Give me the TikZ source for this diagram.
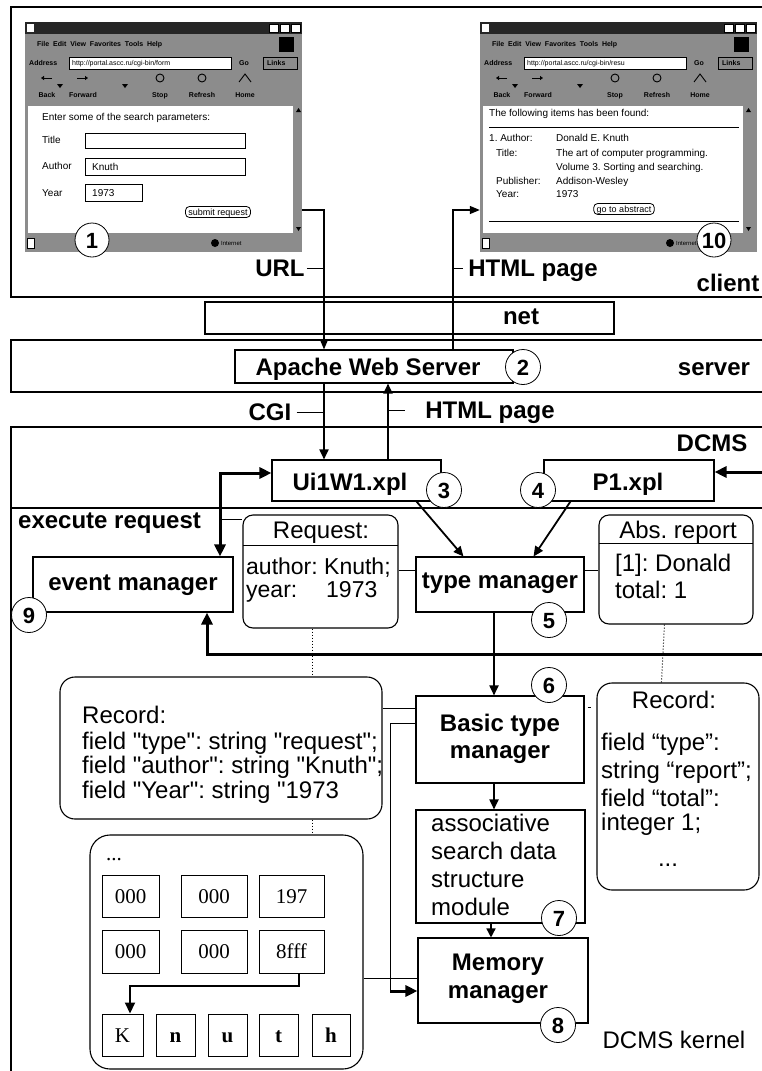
\documentclass[tikz,border=0pt]{standalone}
\usepackage{fontspec}
\setmainfont{Liberation Sans}
\newfontfamily\cellfont{Liberation Serif}
\usetikzlibrary{arrows.meta}
\AtBeginDocument{\frenchspacing}
\newcommand\sq{\XeTeXglyph\XeTeXcharglyph"22\relax}
\tikzset{
  frame/.style={draw,line width=1.4pt},
  box/.style={draw,line width=1.1pt,inner sep=0pt},
  rbox/.style={draw,line width=1.1pt,inner sep=0pt},
  lab/.style={inner sep=0pt,text height=17pt,text depth=0pt,font=\fontsize{24}{28}\selectfont\bfseries},
  txt/.style={inner sep=0pt,text height=17pt,text depth=0pt,font=\fontsize{24}{28}\selectfont},
  reqtxt/.style={inner sep=0pt,text height=16pt,text depth=0pt,font=\fontsize{23}{27}\selectfont},
  num/.style={circle,draw,fill=white,line width=0.8pt,minimum size=35pt,inner sep=0pt,text height=16pt,text depth=0pt,font=\fontsize{22}{22}\selectfont\bfseries},
  arr/.style={line width=1.8pt,-{Triangle[length=10pt,width=9pt]}},
  thinarr/.style={line width=1.3pt,-{Triangle[length=10pt,width=8pt]}},
  thickarr/.style={line width=3pt,-{Triangle[length=12pt,width=11pt]}},
  thickboth/.style={line width=3pt,{Triangle[length=12pt,width=11pt]}-{Triangle[length=12pt,width=11pt]}},
  link/.style={line width=1pt},
  dotlink/.style={line width=1pt,dotted},
  cell/.style={draw,line width=1pt,inner sep=0pt,text height=14pt,text depth=0pt,font=\cellfont\fontsize{21}{21}\selectfont},
  btxt/.style={inner sep=0pt,anchor=west,text height=7pt,text depth=0pt,font=\fontsize{10}{12}\selectfont},
  stxt/.style={inner sep=0pt,text height=5pt,text depth=0pt,font=\fontsize{7}{8}\selectfont\bfseries},
  fieldbox/.style={draw,fill=white,line width=0.7pt},
  button/.style={draw,fill=white,line width=0.8pt,rounded corners=4pt,inner xsep=3pt,inner ysep=2pt,text height=7pt,text depth=0pt,font=\fontsize{9}{10}\selectfont},
}
\newcommand\drawbrowser[2]{%
  \fill[black!45] (0,0) rectangle (277,230);
  \fill[black!85] (0,0) rectangle (277,12);
  \fill[white] (2,2) rectangle (9,10);
  \foreach \bx in {244,255,266}{\draw[fill=white,line width=0.5pt] (\bx,2) rectangle ++(9,8);}
  \node[stxt,anchor=west] at (12,22) {File\ \ Edit\ \ View\ \ Favorites\ \ Tools\ \ Help};
  \fill[black] (254,15) rectangle (269,30);
  \node[stxt,anchor=west] at (4,41) {Address};
  \draw[fieldbox] (44,35) rectangle (206,47);
  \node[stxt,anchor=west,font=\fontsize{7}{8}\selectfont] at (47,41) {#1};
  \node[stxt,anchor=west] at (214,41) {Go};
  \draw[line width=0.6pt] (238,35) rectangle (272,47);
  \node[stxt,anchor=west] at (242,41) {Links};
  \draw[line width=1pt,-{Triangle[length=3pt,width=4pt]}] (27,56) -- (16,56);
  \draw[line width=1pt,-{Triangle[length=3pt,width=4pt]}] (52,56) -- (63,56);
  \fill (32,62) -- (38,62) -- (35,66) -- cycle;
  \fill (97,62) -- (103,62) -- (100,66) -- cycle;
  \draw[line width=0.9pt] (135,56) circle (4);
  \draw[line width=0.9pt] (177,56) circle (4);
  \draw[line width=0.9pt] (214,60) -- (220,52) -- (226,60);
  \node[stxt] at (22,73) {Back};
  \node[stxt] at (58,73) {Forward};
  \node[stxt] at (135,73) {Stop};
  \node[stxt] at (177,73) {Refresh};
  \node[stxt] at (220,73) {Home};
  \fill[white] (3,84) rectangle (#2,211);
  \fill (#2+3,90) -- (#2+8,90) -- (#2+5.5,86) -- cycle;
  \fill (#2+3,205) -- (#2+8,205) -- (#2+5.5,209) -- cycle;
  \draw[fill=white,line width=0.5pt] (2,216) rectangle (9,226);
  \fill (190,221) circle (4);
  \node[stxt,anchor=west,font=\fontsize{6}{7}\selectfont] at (196,221) {Internet};
}
\begin{document}
\begin{tikzpicture}[x=1pt,y=-1pt]
\useasboundingbox (0,0) rectangle (762,1071);
\clip (0,0) rectangle (762,1071);
\fill[white] (0,0) rectangle (762,1071);

% layer frames
\draw[frame] (11,7) rectangle (800,297);
\draw[frame] (11,340) rectangle (800,392);
\draw[frame] (11,427) rectangle (800,1100);
\draw[frame] (11,508) -- (800,508);

% browsers
\begin{scope}[shift={(25,22)}]\drawbrowser{http://portal.ascc.ru/cgi-bin/form}{268}\end{scope}
\begin{scope}[shift={(480,22)}]\drawbrowser{http://portal.ascc.ru/cgi-bin/resu}{263}\end{scope}
\node[inner sep=0pt,minimum width=277pt,minimum height=230pt] (b1) at (163.5,137) {};
\node[inner sep=0pt,minimum width=276pt,minimum height=230pt] (b2) at (618,137) {};

% left browser content
\node[btxt] at (42,117) {Enter some of the search parameters:};
\node[btxt] at (42,140) {Title};
\draw[fieldbox] (85,133) rectangle (245,148);
\node[btxt] at (42,166) {Author};
\draw[fieldbox] (85,158) rectangle (245,175);
\node[btxt] at (92,167) {Knuth};
\node[btxt] at (42,193) {Year};
\draw[fieldbox] (85,184) rectangle (142,201);
\node[btxt] at (92,193) {1973};
\node[button] (sub) at (218,212) {submit request};

% right browser content
\node[btxt] at (489,113) {The following items has been found:};
\draw[line width=0.8pt] (489,127) -- (739,127);
\node[btxt] at (489,138) {1. Author:};
\node[btxt] at (556,138) {Donald E. Knuth};
\node[btxt] at (496,153) {Title:};
\node[btxt] at (556,153) {The art of computer programming.};
\node[btxt] at (556,167) {Volume 3. Sorting and searching.};
\node[btxt] at (496,181) {Publisher:};
\node[btxt] at (556,181) {Addison-Wesley};
\node[btxt] at (496,194) {Year:};
\node[btxt] at (556,194) {1973};
\node[button] (abstr) at (624,209) {go to abstract};
\draw[line width=0.8pt] (489,221) -- (739,221);

% boxes
\node[box,minimum width=409pt,minimum height=32pt] (net) at (409.5,318) {};
\node[lab] at (521,316) {net};
\node[box,minimum width=278pt,minimum height=33pt] (apache) at (374,366.5) {};
\node[lab] at (368,367) {Apache Web Server};
\node[lab] at (714,367) {server};

\node[box,minimum width=169pt,minimum height=41pt] (ui) at (356.5,480.5) {};
\node[lab] at (350,482) {Ui1W1.xpl};
\node[box,minimum width=170pt,minimum height=41pt] (p1) at (629,480.5) {};
\node[lab] at (628,482) {P1.xpl};
\node[lab] at (712,443) {DCMS};

\node[box,minimum width=200pt,minimum height=55pt] (event) at (133,584.5) {};
\node[lab] at (133,582) {event manager};
\node[box,minimum width=168pt,minimum height=55pt] (type) at (500,584.5) {};
\node[lab] at (500,580) {type manager};

\node[rbox,rounded corners=10pt,minimum width=155pt,minimum height=113pt] (req) at (320.5,571.5) {};
\draw[link] (243,545) -- (398,545);
\node[txt] at (321,530) {Request:};
\node[reqtxt,anchor=west] at (246,566) {author: Knuth;};
\node[reqtxt,anchor=west] at (246,589) {year:};
\node[reqtxt,anchor=west] at (326,589) {1973};

\node[rbox,rounded corners=10pt,minimum width=154pt,minimum height=109pt] (abs) at (676,569.5) {};
\draw[link] (599,543) -- (753,543);
\node[txt] at (678,530) {Abs. report};
\node[txt,anchor=west] at (615,563) {[1]: Donald};
\node[txt,anchor=west] at (615,590) {total: 1};

\node[lab,anchor=west] at (18,520) {execute request};

\node[box,minimum width=168pt,minimum height=87pt] (basic) at (500,739.5) {};
\node[lab] at (500,723) {Basic type};
\node[lab] at (500,750) {manager};
\node[box,minimum width=169pt,minimum height=113pt] (assoc) at (500.5,866.5) {};
\node[txt,anchor=west] at (431,823) {associative};
\node[txt,anchor=west] at (431,851) {search data};
\node[txt,anchor=west] at (431,879) {structure};
\node[txt,anchor=west] at (431,907) {module};
\node[box,minimum width=170pt,minimum height=85pt] (mem) at (503,980.5) {};
\node[lab] at (498,962) {Memory};
\node[lab] at (498,990) {manager};
\node[txt] at (674,1040) {DCMS kernel};

% records
\node[rbox,rounded corners=15pt,minimum width=322pt,minimum height=142pt] (recL) at (221,748) {};
\node[txt,anchor=west] at (82,715) {Record:};
\node[txt,anchor=west] at (82,741) {field \sq type\sq: string \sq request\sq;};
\node[txt,anchor=west] at (82,765) {field \sq author\sq: string \sq Knuth\sq;};
\node[txt,anchor=west] at (82,790) {field \sq Year\sq: string \sq 1973};

\node[rbox,rounded corners=15pt,minimum width=162pt,minimum height=207pt] (recR) at (678,786.5) {};
\node[txt] at (674,700) {Record:};
\node[txt,anchor=west] at (601,742) {field “type”:};
\node[txt,anchor=west] at (601,770) {string “report”;};
\node[txt,anchor=west] at (601,798) {field “total”:};
\node[txt,anchor=west] at (601,822) {integer 1;};
\node[txt,text height=2pt] at (668,865) {...};

% memory region
\node[rbox,rounded corners=20pt,minimum width=273pt,minimum height=234pt] (memreg) at (226.5,952) {};
\node[inner sep=0pt,text height=2pt,text depth=0pt,font=\cellfont\fontsize{21}{21}\selectfont] at (114,859) {...};
\node[cell,minimum width=57pt,minimum height=42pt] (c11) at (130.5,896) {000};
\node[cell,minimum width=66pt,minimum height=42pt] (c12) at (214,896) {000};
\node[cell,minimum width=65pt,minimum height=42pt] (c13) at (291.5,896) {197};
\node[cell,minimum width=57pt,minimum height=43pt] (c21) at (130.5,951.5) {000};
\node[cell,minimum width=66pt,minimum height=43pt] (c22) at (214,951.5) {000};
\node[cell,minimum width=65pt,minimum height=43pt] (c23) at (291.5,951.5) {8fff};
\node[cell,minimum width=41pt,minimum height=42pt] (cK) at (122.5,1035) {K};
\node[cell,minimum width=39pt,minimum height=42pt,font=\cellfont\bfseries\fontsize{21}{21}\selectfont] (cn) at (175.5,1035) {n};
\node[cell,minimum width=39pt,minimum height=42pt,font=\cellfont\bfseries\fontsize{21}{21}\selectfont] (cu) at (227.5,1035) {u};
\node[cell,minimum width=39pt,minimum height=42pt,font=\cellfont\bfseries\fontsize{21}{21}\selectfont] (ct) at (278.5,1035) {t};
\node[cell,minimum width=38pt,minimum height=42pt,font=\cellfont\bfseries\fontsize{21}{21}\selectfont] (ch) at (331,1035) {h};

% connectors: client / server
\coordinate (urlv) at (324,210);
\draw[thinarr] (b1.east |- urlv) -- (urlv) -- (urlv |- apache.north);
\coordinate (htmlv) at (453,210);
\draw[thinarr] (apache.north -| htmlv) -- (htmlv) -- (b2.west |- htmlv);
\node[lab] (urllab) at (280,268) {URL};
\draw[link] ([xshift=2pt]urllab.east) -- (urllab.east -| urlv);
\node[lab] (html1) at (533,268) {HTML page};
\draw[link] (html1.west -| htmlv) -- ([xshift=-5pt]html1.west);
\node[lab] at (728,283) {client};

\coordinate (cgiv) at (324,400);
\draw[arr] (apache.south -| cgiv) -- (ui.north -| cgiv);
\coordinate (retv) at (388,400);
\draw[arr] (ui.north -| retv) -- (apache.south -| retv);
\node[lab] (cgilab) at (270,412) {CGI};
\draw[link] ([xshift=5pt]cgilab.east) -- (cgilab.east -| cgiv);
\node[lab] (html2) at (490,410) {HTML page};
\draw[link] (html2.west -| retv) -- ([xshift=-20pt]html2.west);

% DCMS connectors
\coordinate (ev1) at (220,473);
\draw[thickboth] (event.north -| ev1) -- (ev1) -- (ui.west |- ev1);
\coordinate (reqlink) at (220,519);
\draw[link] (reqlink) -- (req.west |- reqlink);
\coordinate (p1r) at (800,472);
\draw[thickarr] (p1r) -- (p1.east |- p1r);
\draw[arr] ([xshift=-25pt]ui.south east) -- ([xshift=48pt]type.north west);
\draw[arr] ([xshift=27pt]p1.south west) -- ([xshift=-51pt]type.north east);
\coordinate (tl) at (400,570);
\draw[link] (req.east |- tl) -- (type.west |- tl);
\draw[link] (type.east |- tl) -- (abs.west |- tl);
\coordinate (tb) at (494,650);
\draw[arr] (type.south -| tb) -- (basic.north -| tb);
\coordinate (fbR) at (800,654);
\coordinate (fb) at (207,654);
\draw[thickarr] (fbR) -- (fb) -- (event.south -| fb);

\coordinate (d1) at (312,700);
\draw[dotlink] (req.south -| d1) -- (recL.north -| d1);
\draw[dotlink] (recL.south -| d1) -- (memreg.north -| d1);
\draw[dotlink] ([xshift=66pt]abs.south west) -- ([xshift=65pt]recR.north west);

\coordinate (rb) at (400,708);
\draw[link] (recL.east |- rb) -- (basic.west |- rb);
\coordinate (br) at (590,707);
\draw[line width=1pt,dash pattern=on 0pt off 3pt on 3pt off 30pt] (basic.east |- br) -- (recR.west |- br);
\coordinate (bm1) at (390,723);
\coordinate (bm2) at (390,991);
\draw[link] (basic.west |- bm1) -- (bm1) -- (bm2);
\draw[thickarr] (bm2) -- (mem.west |- bm2);
\coordinate (mm) at (400,978);
\draw[link] (memreg.east |- mm) -- (mem.west |- mm);
\draw[arr] (basic.south -| tb) -- (assoc.north -| tb);
\coordinate (am) at (491,930);
\draw[line width=1.5pt,-{Triangle[length=9pt,width=9pt]}] (assoc.south -| am) -- (mem.north -| am);

\coordinate (k1) at (299,986);
\coordinate (k2) at (130,986);
\draw[line width=2pt,-{Triangle[length=11pt,width=10pt]}] (c23.south -| k1) -- (k1) -- (k2) -- (cK.north -| k2);

% numbered circles
\node[num,minimum size=34pt] at (92,240) {1};
\node[num,minimum size=34pt] at (714,240) {10};
\node[num] at (523,367) {2};
\node[num] at (444,490) {3};
\node[num] at (538,490) {4};
\node[num] at (549,620) {5};
\node[num] at (549,685) {6};
\node[num] at (559,918) {7};
\node[num] at (558,1025) {8};
\node[num] at (29,615) {9};
\end{tikzpicture}
\end{document}
